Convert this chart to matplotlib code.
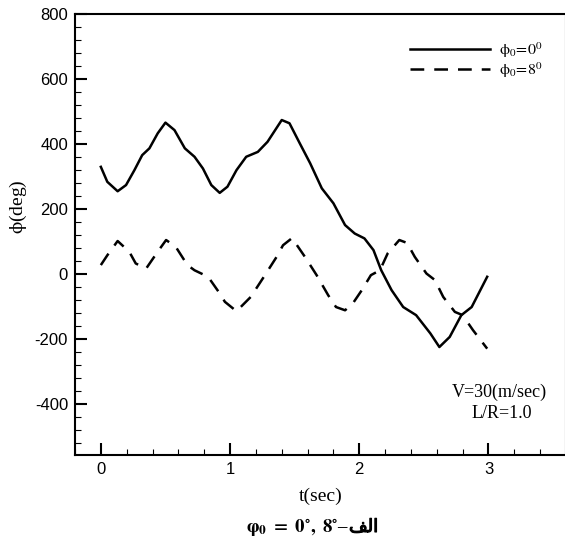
import numpy as np
import matplotlib
matplotlib.use("Agg")
import matplotlib.pyplot as plt
import matplotlib.patheffects as pe
from matplotlib.ticker import MultipleLocator

plt.rcParams['mathtext.fontset'] = 'stix'
plt.rcParams['axes.unicode_minus'] = False

# phi0 = 0 deg (solid)
t_a = [0.00, 0.05, 0.13, 0.195, 0.26, 0.32, 0.376, 0.44, 0.50, 0.57, 0.65,
       0.725, 0.79, 0.855, 0.92, 0.98, 1.05, 1.125, 1.215, 1.29, 1.40, 1.46,
       1.54, 1.62, 1.71, 1.80, 1.89, 1.965, 2.04, 2.11, 2.17, 2.25, 2.34,
       2.44, 2.55, 2.62, 2.70, 2.79, 2.87, 2.99]
phi_a = [330, 284, 255, 274, 320, 366, 387, 433, 466, 443, 387,
         361, 325, 274, 250, 269, 320, 361, 376, 407, 474, 464,
         402, 341, 264, 218, 151, 125, 110, 74, 12, -49, -101,
         -126, -182, -224, -193, -126, -101, -8]

# phi0 = 8 deg (dashed)
t_b = [0.00, 0.05, 0.13, 0.22, 0.27, 0.35, 0.44, 0.505, 0.58, 0.67, 0.725,
       0.83, 0.92, 0.96, 1.05, 1.16, 1.27, 1.36, 1.41, 1.48, 1.58, 1.67,
       1.76, 1.82, 1.89, 1.95, 2.02, 2.09, 2.16, 2.22, 2.31, 2.37, 2.43,
       2.52, 2.585, 2.65, 2.74, 2.80, 2.88, 2.99]
phi_b = [28, 58, 102, 69, 33, 17, 69, 105, 84, 28, 12,
         -8, -59, -85, -114, -70, -3, 53, 89, 111, 53, -3,
         -65, -101, -111, -90, -49, -3, 12, 64, 105, 96, 53,
         2, -18, -70, -116, -126, -172, -229]

labels = [r'$\mathrm{\phi}_0\!=\!0^0$', r'$\mathrm{\phi}_0\!=\!8^0$']

fig = plt.figure(figsize=(5.65, 5.46), dpi=100)
ax = fig.add_axes([75/565, 1-455/546, 491/565, 441/546])

ax.plot(t_a, phi_a, color='black', lw=1.8, solid_joinstyle='round',
        label=labels[0])
ax.plot(t_b, phi_b, color='black', lw=1.8, dashes=(5.5, 4),
        dash_joinstyle='round', label=labels[1])

ax.set_xlim(-0.2, 3.6)
ax.set_ylim(-556, 800)
ax.set_xticks([0, 1, 2, 3])
ax.set_yticks([-400, -200, 0, 200, 400, 600, 800])
ax.xaxis.set_minor_locator(MultipleLocator(0.2))
ax.yaxis.set_minor_locator(MultipleLocator(40))
ax.tick_params(which='both', direction='in', top=False, right=False)
ax.tick_params(which='major', length=8.5, width=1.5, labelsize=12, pad=5)
ax.tick_params(which='minor', length=4, width=0.8)
for lab in ax.get_xticklabels() + ax.get_yticklabels():
    lab.set_family('Liberation Sans')
for s in ax.spines.values():
    s.set_linewidth(1.5)

ax.set_xlabel('t(sec)', family='Liberation Serif', fontsize=14, labelpad=8)
fig.text(18/565, 1-207/546, r'$\mathrm{\phi}$(deg)', family='Liberation Serif',
         fontsize=14, rotation=90, ha='center', va='center')

ax.legend(loc='upper left', bbox_to_anchor=(410/565, 1-40/546),
          bbox_transform=fig.transFigure, frameon=False, fontsize=11.5,
          handlelength=5.0, handletextpad=0.6, labelspacing=0.05,
          borderpad=0, borderaxespad=0)

fig.text(499/565, 1-392/546, 'V=30(m/sec)', family='Liberation Serif', fontsize=13,
         ha='center', va='center')
fig.text(502/565, 1-414/546, 'L/R=1.0', family='Liberation Serif', fontsize=13,
         ha='center', va='center')

# caption: math part + arabic word (presentation forms, visual order)
fig.text(349/565, 1-528/546, r'$\mathbf{\varphi_0\ =\ 0^{\circ},\ 8^{\circ}}$' + '\u2013',
         family='Liberation Serif', fontweight='bold', fontsize=13.5,
         ha='right', va='center')
fig.text(349/565, 1-527/546, '\uFED2\uFEDF\uFE8D', family='DejaVu Sans',
         fontsize=13, ha='left', va='center',
         path_effects=[pe.withStroke(linewidth=0.8, foreground='black')])

fig.savefig('out.png', dpi=100)
